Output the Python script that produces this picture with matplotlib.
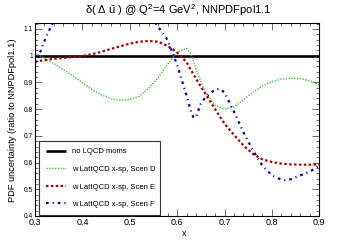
import matplotlib
matplotlib.use("Agg")
import matplotlib.pyplot as plt
from matplotlib.ticker import MultipleLocator

plt.rcParams['font.family'] = ['Liberation Sans', 'DejaVu Sans']
plt.rcParams['mathtext.fontset'] = 'custom'
plt.rcParams['mathtext.rm'] = 'Liberation Sans'
plt.rcParams['mathtext.it'] = 'Liberation Sans:italic'

# ---- data ----
x_ref = [0.30, 0.90]
y_ref = [1.0, 1.0]

x_D = [0.30, 0.32, 0.34, 0.36, 0.38, 0.40, 0.42, 0.44, 0.46, 0.48, 0.50, 0.52,
       0.54, 0.56, 0.58, 0.60, 0.62, 0.63, 0.64, 0.66, 0.68, 0.70, 0.72, 0.74,
       0.76, 0.78, 0.80, 0.82, 0.84, 0.86, 0.88, 0.90]
y_D = [1.010, 0.990, 0.970, 0.948, 0.924, 0.898, 0.874, 0.853, 0.839, 0.833, 0.836, 0.848,
       0.878, 0.918, 0.968, 1.013, 1.027, 1.003, 0.948, 0.862, 0.814, 0.800, 0.808, 0.835,
       0.863, 0.887, 0.903, 0.912, 0.915, 0.914, 0.906, 0.890]

x_E = [0.30, 0.32, 0.34, 0.36, 0.38, 0.40, 0.42, 0.44, 0.46, 0.48, 0.50, 0.52,
       0.54, 0.56, 0.58, 0.60, 0.62, 0.64, 0.66, 0.68, 0.70, 0.72, 0.74, 0.76,
       0.78, 0.80, 0.82, 0.84, 0.86, 0.88, 0.90]
y_E = [0.978, 0.983, 0.988, 0.991, 0.995, 0.999, 1.005, 1.014, 1.025, 1.035, 1.045, 1.052,
       1.055, 1.052, 1.036, 1.012, 0.975, 0.913, 0.856, 0.800, 0.745, 0.703, 0.664, 0.632,
       0.612, 0.602, 0.596, 0.593, 0.592, 0.592, 0.593]

x_F = [0.30, 0.31, 0.32, 0.33, 0.34, 0.36, 0.40, 0.44, 0.48, 0.52, 0.54, 0.56,
       0.58, 0.60, 0.62, 0.63, 0.635, 0.64, 0.65, 0.66, 0.68, 0.69, 0.70, 0.72,
       0.74, 0.76, 0.78, 0.80, 0.82, 0.83, 0.84, 0.86, 0.88, 0.90]
y_F = [0.972, 1.008, 1.055, 1.095, 1.130, 1.200, 1.290, 1.320, 1.290, 1.210, 1.150, 1.108,
       1.058, 0.965, 0.850, 0.785, 0.767, 0.772, 0.820, 0.845, 0.873, 0.876, 0.862, 0.790,
       0.713, 0.645, 0.588, 0.552, 0.536, 0.533, 0.538, 0.552, 0.566, 0.588]

labels = ["no LQCD moms", "w LattQCD x-sp, Scen D",
          "w LattQCD x-sp, Scen E", "w LattQCD x-sp, Scen F"]

fig = plt.figure(figsize=(3.55, 2.40), dpi=100)
ax = fig.add_axes([35/355, 1-216/240, (319.3-35)/355, (216-23.3)/240])

ax.plot(x_ref, y_ref, color='black', lw=1.9, label=labels[0], solid_capstyle='butt')
ax.plot(x_D, y_D, color='#3cc83c', lw=1.0, ls=(0, (1, 1)), label=labels[1])
ax.plot(x_E, y_E, color='#b00000', lw=1.6, ls=(0, (1.1, 1.1)), label=labels[2])
ax.plot(x_F, y_F, color='#0000cc', lw=1.6, ls=(0, (1.2, 1.8, 0.5, 1.8)), label=labels[3])

ax.set_xlim(0.3, 0.9)
ax.set_ylim(0.4, 1.121)
ax.xaxis.set_minor_locator(MultipleLocator(0.02))
ax.yaxis.set_minor_locator(MultipleLocator(0.02))
ax.tick_params(which='both', direction='in', top=True, right=True, width=0.6, color='#555555')
ax.tick_params(which='major', length=5)
ax.tick_params(which='minor', length=2.5)
ax.tick_params(axis='x', labelsize=6.5, pad=1.5)
ax.tick_params(axis='y', labelsize=4.8, pad=1.5)
ax.set_xticks([0.3, 0.4, 0.5, 0.6, 0.7, 0.8, 0.9])
ax.set_xticklabels(['0.3', '0.4', '0.5', '0.6', '0.7', '0.8', '0.9'])
ax.set_yticks([0.4, 0.5, 0.6, 0.7, 0.8, 0.9, 1.0, 1.1])
ax.set_yticklabels(['0.4', '0.5', '0.6', '0.7', '0.8', '0.9', '1', '1.1'])
for s in ax.spines.values():
    s.set_linewidth(0.8)

fig.text(178/355, 1-10/240, 'δ( Δ $\\bar{\\mathrm{u}}$ ) @ Q$^2$=4 GeV$^2$, NNPDFpol1.1',
         ha='center', va='center', fontsize=8)
fig.text(184/355, 1-233/240, 'x', ha='center', va='center', fontsize=6.5)
fig.text(13/355, 1-120/240, 'PDF uncertainty (ratio to NNPDFpol1.1)', rotation=90,
         ha='center', va='center', fontsize=6.7)

leg = ax.legend(loc='lower left', bbox_to_anchor=(0.014, 0.005, 0.426, 0.40), mode='expand',
                borderaxespad=0, fontsize=5.5, handlelength=2.6, handletextpad=0.8,
                borderpad=0.9, labelspacing=1.35, fancybox=False, framealpha=1,
                edgecolor='#333333')
leg.get_frame().set_linewidth(0.8)

fig.savefig('out.png', dpi=100)
